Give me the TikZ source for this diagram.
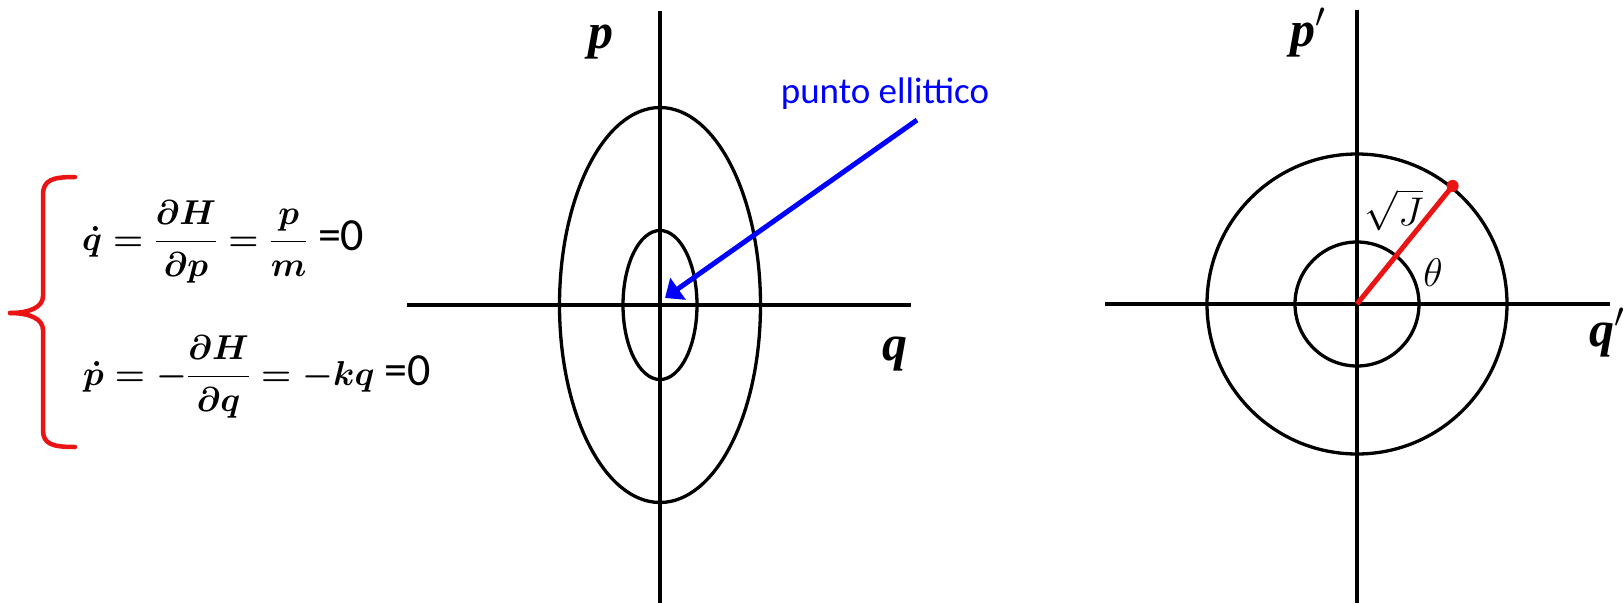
\RequirePackage{fix-cm}
\documentclass[tikz,border=0pt]{standalone}
\usepackage{amsmath}
\usepackage{fontspec}
\usetikzlibrary{arrows.meta}
\newfontfamily\slidefont{Carlito}
\newfontfamily\bookfont{Liberation Serif}
\definecolor{slidered}{RGB}{235,20,20}
\definecolor{slideblue}{RGB}{0,0,255}
\begin{document}
\begin{tikzpicture}[x=1pt,y=-1pt,
    axis/.style={line width=3.3pt},
    orbit/.style={line width=3.3pt},
    brace/.style={slidered,line width=4.5pt,line cap=round},
    axlabel/.style={inner sep=0pt,font=\bookfont\bfseries\itshape\fontsize{50}{50}\selectfont},
    mathlabel/.style={inner sep=0pt,font=\fontsize{40}{40}\selectfont},
    eqn/.style={inner sep=0pt,font=\fontsize{34.5}{42}\selectfont\boldmath},
    pointer/.style={slideblue,line width=5pt,-{Triangle[length=16pt,width=26pt]}}]
	\useasboundingbox (0,0) rectangle (1623,603);
	% equations of motion
	\draw[brace] (75,177) .. controls (52,177) and (43,180) .. (43,195) -- (43,296)
		.. controls (43,307) and (30,313) .. (10,313);
	\draw[brace] (10,313) .. controls (30,313) and (43,319) .. (43,330) -- (43,430)
		.. controls (43,444) and (52,447) .. (75,447);
	\node[eqn,anchor=base west] (eqone) at (82,250) {$\dot q=\dfrac{\partial H}{\partial p}=\dfrac{p}{m}$ {\slidefont\fontsize{46}{46}\selectfont=0}};
	\node[eqn,anchor=base west] (eqtwo) at (83,385) {$\dot p=-\dfrac{\partial H}{\partial q}=-kq$ {\slidefont\fontsize{46}{46}\selectfont=0}};
	% phase plane (q,p)
	\coordinate (O1) at (660,305);
	\draw[axis] (407,305) -- (911,305);
	\draw[axis] (660,11) -- (660,603);
	\draw[orbit] (O1) ellipse [x radius=100.5, y radius=197.5];
	\draw[orbit] (O1) ellipse [x radius=37, y radius=74.5];
	\node[axlabel,anchor=base] (lblp) at (601,48) {p};
	\node[axlabel,anchor=base] (lblq) at (895,360) {q};
	\node[inner sep=0pt,anchor=base,slideblue,font=\slidefont\fontsize{37}{37}\selectfont] (lblpunto) at (885,103) {punto ellittico};
	\coordinate (arrtail) at (917,120);
	\coordinate (arrtip) at (665,298);
	\draw[pointer] (arrtail) -- (arrtip);
	% phase plane (q',p')
	\coordinate (O2) at (1357,304);
	\draw[axis] (1105,304) -- (1610,304);
	\draw[axis] (1357,10) -- (1357,603);
	\draw[orbit] (O2) circle [radius=150];
	\draw[orbit] (O2) circle [radius=62];
	\coordinate (P) at ([shift={(-51:152)}]O2);
	\draw[slidered,line width=5pt] (O2) -- (P);
	\fill[slidered] (P) circle [radius=6];
	\node[axlabel,anchor=base] (lblpp) at (1308,46) {p$'$};
	\node[axlabel,anchor=base] (lblqq) at (1607,346) {q$'$};
	\node[mathlabel] (lblsqrtJ) at (1394,210) {$\sqrt{J}$};
	\node[mathlabel] (lbltheta) at (1433,273) {$\theta$};
\end{tikzpicture}
\end{document}
